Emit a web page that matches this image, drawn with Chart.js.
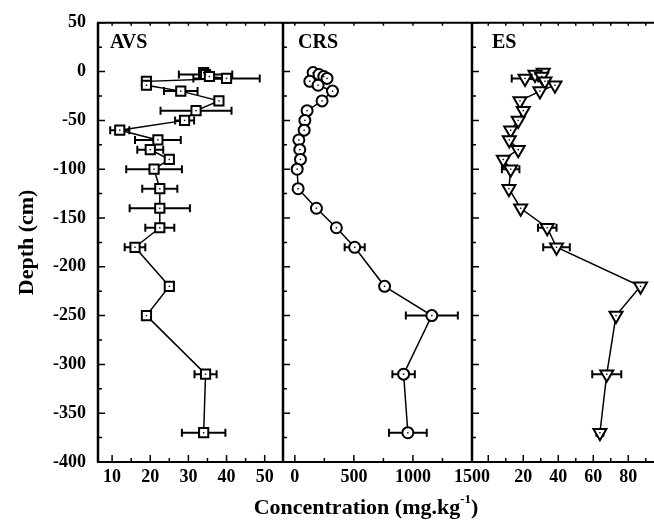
<!DOCTYPE html>
<html>
<head>
<meta charset="utf-8">
<script src="https://cdn.jsdelivr.net/npm/chart.js@4.4.1/dist/chart.umd.min.js"></script>
<style>
  html, body { margin: 0; padding: 0; background: #fff; overflow: hidden; }
  canvas { display: block; }
</style>
</head>
<body>
<canvas id="perfil" width="654" height="524"></canvas>
<script>
// profundidade das amostras (cm)
var profundidade = [-1, -3, -5, -7, -10, -14, -20, -30, -40, -50, -60, -70, -80, -90, -100, -120, -140, -160, -180, -220, -250, -310, -370];

// AVS
var avs    = [34, 34.5, 35.5, 40, 19, 19, 28, 38, 32, 29, 12, 22, 20, 25, 21, 22.5, 22.5, 22.5, 16, 25, 19, 34.5, 34];
var avsErr = [0, 7, 0, 8.7, 0, 1, 4.4, 0, 9.3, 2.5, 2.5, 6, 3.4, 0, 7.3, 4.6, 7.9, 3.8, 2.7, 0, 0, 2.9, 5.7];

// CRS
var crs    = [155, 205, 245, 273, 127, 197, 319, 231, 104, 85, 79, 34, 42, 48, 20, 28, 183, 352, 507, 760, 1160, 921, 957];
var crsErr = [0, 0, 0, 30, 0, 0, 0, 0, 0, 0, 0, 0, 0, 0, 0, 0, 0, 0, 85, 0, 220, 95, 160];

// ES
var es    = [31.4, 26.7, 30.5, 21, 32.4, 38.1, 29.5, 18.1, 20, 17.1, 12.8, 12, 17.1, 8.6, 12.8, 11.8, 18.5, 33.7, 39, 87, 73, 67.7, 63.8];
var esErr = [0, 0, 0, 7.6, 0, 0, 0, 0, 0, 0, 0, 0, 0, 0, 5, 0, 0, 5.3, 7.6, 0, 0, 8.3, 2];

// rotulos dos eixos
var depthTicks = [50, 0, -50, -100, -150, -200, -250, -300, -350, -400];
var avsTicks = [10, 20, 30, 40, 50];
var crsTicks = [0, 500, 1000, 1500];
var esTicks = [20, 40, 60, 80];

var fonte = 'Liberation Serif';

function pontos(vals) {
    return vals.map(function (v, i) { return { x: v, y: profundidade[i] }; });
}

var paineis = [
    { id: 'xAVS', nome: 'AVS', major: 10, minor: 5, dx: 12 },
    { id: 'xCRS', nome: 'CRS', major: 500, minor: 250, dx: 15 },
    { id: 'xES', nome: 'ES', major: 20, minor: 10, dx: 20 }
];

// barras de erro horizontais + ponto central
var barrasErro = {
    id: 'barrasErro',
    beforeDatasetsDraw: function (chart) {
        var ctx = chart.ctx;
        ctx.save();
        ctx.strokeStyle = '#000';
        ctx.lineWidth = 2;
        chart.data.datasets.forEach(function (ds, di) {
            var meta = chart.getDatasetMeta(di);
            var sx = chart.scales[ds.xAxisID];
            ds.data.forEach(function (p, i) {
                var e = ds.erro[i];
                if (!e) return;
                var y = meta.data[i].y;
                var x1 = sx.getPixelForValue(p.x - e);
                var x2 = sx.getPixelForValue(p.x + e);
                ctx.beginPath();
                ctx.moveTo(x1, y); ctx.lineTo(x2, y);
                ctx.moveTo(x1, y - 4); ctx.lineTo(x1, y + 4);
                ctx.moveTo(x2, y - 4); ctx.lineTo(x2, y + 4);
                ctx.stroke();
            });
        });
        ctx.restore();
    },
    afterDatasetsDraw: function (chart) {
        var ctx = chart.ctx;
        ctx.save();
        ctx.fillStyle = '#000';
        chart.data.datasets.forEach(function (ds, di) {
            chart.getDatasetMeta(di).data.forEach(function (el) {
                ctx.fillRect(el.x - 0.7, el.y - 0.7, 1.4, 1.4);
            });
        });
        ctx.restore();
    }
};

// moldura, ticks para dentro, nomes dos paineis e titulo do eixo x
var moldura = {
    id: 'moldura',
    afterDraw: function (chart) {
        var ctx = chart.ctx, a = chart.chartArea, sy = chart.scales.y;
        ctx.save();
        ctx.strokeStyle = '#000';
        ctx.lineWidth = 2;
        ctx.beginPath();
        ctx.moveTo(a.left - 1, a.top); ctx.lineTo(a.right, a.top);
        ctx.moveTo(a.left - 1, a.bottom); ctx.lineTo(a.right, a.bottom);
        ctx.stroke();

        paineis.forEach(function (p) {
            var s = chart.scales[p.id];
            ctx.lineWidth = 2.5;
            ctx.beginPath();
            ctx.moveTo(s.left, a.top); ctx.lineTo(s.left, a.bottom);
            ctx.stroke();

            ctx.lineWidth = 1.5;
            ctx.beginPath();
            for (var v = -400; v <= 50; v += 25) {
                var py = sy.getPixelForValue(v);
                var len = v % 50 === 0 ? 7 : 4;
                ctx.moveTo(s.left, py); ctx.lineTo(s.left + len, py);
            }
            var v0 = Math.ceil(s.min / p.minor) * p.minor;
            for (var x = v0; x <= s.max; x += p.minor) {
                var px = s.getPixelForValue(x);
                var maj = Math.abs(x / p.major - Math.round(x / p.major)) < 1e-6;
                ctx.moveTo(px, a.bottom); ctx.lineTo(px, a.bottom - (maj ? 7 : 4));
                ctx.moveTo(px, a.top); ctx.lineTo(px, a.top + 3);
            }
            ctx.stroke();

            ctx.fillStyle = '#000';
            ctx.font = 'bold 20px "' + fonte + '"';
            ctx.textAlign = 'left';
            ctx.textBaseline = 'middle';
            ctx.fillText(p.nome, s.left + p.dx, a.top + 20);
        });

        // titulo do eixo x com expoente
        var base = 'Concentration (mg.kg', sup = '-1', fim = ')';
        ctx.font = 'bold 22px "' + fonte + '"';
        var w1 = ctx.measureText(base).width, w3 = ctx.measureText(fim).width;
        ctx.font = 'bold 13px "' + fonte + '"';
        var w2 = ctx.measureText(sup).width;
        var cx = 366, cy = 508;
        var x0 = cx - (w1 + w2 + w3) / 2;
        ctx.textAlign = 'left';
        ctx.textBaseline = 'middle';
        ctx.font = 'bold 22px "' + fonte + '"';
        ctx.fillText(base, x0, cy);
        ctx.fillText(fim, x0 + w1 + w2, cy);
        ctx.font = 'bold 13px "' + fonte + '"';
        ctx.fillText(sup, x0 + w1, cy - 8);
        ctx.restore();
    }
};

function eixoX(id, lista, min, max, peso) {
    return {
        type: 'linear',
        position: 'bottom',
        stack: 'paineis',
        stackWeight: peso,
        min: min,
        max: max,
        grid: { display: false, drawTicks: false },
        border: { display: false },
        ticks: {
            color: '#000',
            padding: 5,
            maxRotation: 0,
            autoSkip: false,
            callback: function (v) { return String(v); },
            font: { family: fonte, size: 18, weight: 'bold' }
        },
        afterBuildTicks: function (s) { s.ticks = lista.map(function (v) { return { value: v }; }); },
        afterFit: function (s) { s.height = 62; s.paddingLeft = 0; s.paddingRight = 0; }
    };
}

function serie(id, vals, err, estilo, raio, rot) {
    return {
        xAxisID: id,
        yAxisID: 'y',
        data: pontos(vals),
        erro: err,
        showLine: true,
        borderColor: '#000',
        borderWidth: 1.5,
        pointStyle: estilo,
        pointRadius: raio,
        pointRotation: rot,
        pointBorderWidth: 2,
        pointBorderColor: '#000',
        pointBackgroundColor: '#fff'
    };
}

var ctx = document.getElementById('perfil').getContext('2d');
var chart = new Chart(ctx, {
    type: 'scatter',
    data: {
        datasets: [
            serie('xAVS', avs, avsErr, 'rect', 6.5, 0),
            serie('xCRS', crs, crsErr, 'circle', 5.5, 0),
            serie('xES', es, esErr, 'triangle', 7.5, 180)
        ]
    },
    options: {
        responsive: false,
        animation: false,
        layout: { autoPadding: false, padding: { top: 22, left: 0, right: 0, bottom: 0 } },
        plugins: { legend: { display: false }, tooltip: { enabled: false } },
        scales: {
            xAVS: eixoX('xAVS', avsTicks, 6.3, 54.8, 185),
            xCRS: eixoX('xCRS', crsTicks, -100, 1500, 189),
            xES: eixoX('xES', esTicks, -9.3, 94.7, 182),
            y: {
                type: 'linear',
                position: 'left',
                min: -400,
                max: 50,
                grid: { display: false, drawTicks: false },
                border: { display: false },
                ticks: {
                    color: '#000',
                    padding: 12,
                    font: { family: fonte, size: 18, weight: 'bold' }
                },
                afterBuildTicks: function (s) { s.ticks = depthTicks.map(function (v) { return { value: v }; }); },
                title: {
                    display: true,
                    text: 'Depth (cm)',
                    color: '#000',
                    padding: { top: 14, bottom: 0 },
                    font: { family: fonte, size: 22, weight: 'bold' }
                },
                afterFit: function (s) { s.width = 98; }
            }
        }
    },
    plugins: [barrasErro, moldura]
});
</script>
</body>
</html>
